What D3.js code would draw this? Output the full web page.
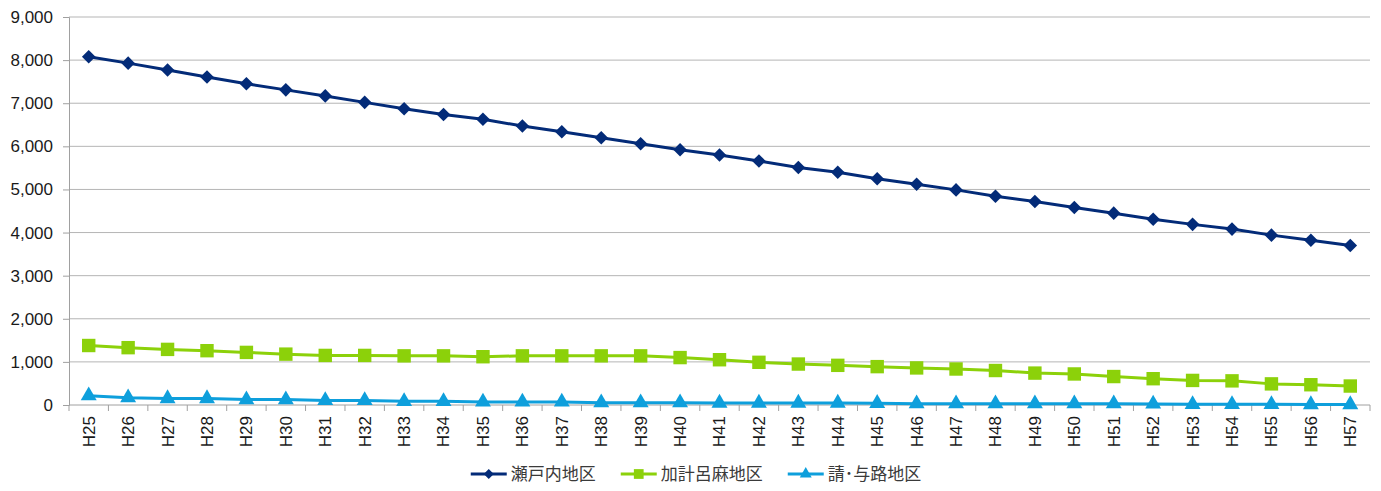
<!DOCTYPE html>
<html>
<head>
<meta charset="utf-8">
<script src="https://cdn.jsdelivr.net/npm/d3@7"></script>
<style>
  body { margin: 0; background: #fff; }
  svg { display: block; }
  .ylab, .xlab { font-family: "Liberation Sans", Arial, sans-serif; fill: #1a1a1a; }
  .leg text { font-family: "Noto Sans CJK JP", sans-serif; fill: #3a3a3a; }
</style>
</head>
<body>
<script>
//categories and series
var years = ["H25","H26","H27","H28","H29","H30","H31","H32","H33","H34","H35",
  "H36","H37","H38","H39","H40","H41","H42","H43","H44","H45","H46",
  "H47","H48","H49","H50","H51","H52","H53","H54","H55","H56","H57"];
var seriesNames = ["瀬戸内地区", "加計呂麻地区", "請･与路地区"];
var setouchi = [8080,7930,7770,7610,7450,7310,7170,7020,6870,6740,6630,
  6470,6340,6200,6060,5920,5800,5660,5510,5400,5250,5120,
  4990,4840,4720,4580,4450,4310,4190,4080,3940,3820,3700];
var kakeroma = [1380,1330,1290,1260,1220,1180,1150,1150,1140,1140,1120,
  1140,1140,1140,1140,1100,1050,990,950,920,890,860,
  835,800,740,720,660,610,570,560,490,470,440];
var ukeYoro = [215,170,150,150,125,125,105,105,85,85,70,
  70,70,55,55,55,45,45,45,45,40,30,
  30,30,30,30,30,25,15,15,15,10,10];
var yTicks = [0,1000,2000,3000,4000,5000,6000,7000,8000,9000];

(function(){
  var width = 1381, height = 491;
  var left = 69, right = 1370, top = 17, bottom = 405;

  var svg = d3.select("body").append("svg")
    .attr("width", width)
    .attr("height", height);

  var x = d3.scaleBand().domain(years).range([left, right]).padding(0);
  var y = d3.scaleLinear().domain([0, 9000]).range([bottom, top]);
  var cx = function(d, i){ return x(years[i]) + x.bandwidth() / 2; };

  //gridlines
  svg.append("g").selectAll("line")
    .data(yTicks.filter(function(t){ return t > 0; }))
    .enter().append("line")
    .attr("x1", left).attr("x2", right)
    .attr("y1", function(d){ return y(d); })
    .attr("y2", function(d){ return y(d); })
    .attr("stroke", "#b5b5b5").attr("stroke-width", 1);

  //y axis
  var yAxis = svg.append("g")
    .attr("transform", "translate(" + left + ",0)")
    .call(d3.axisLeft(y).tickValues(yTicks).tickSize(6).tickPadding(10)
      .tickFormat(d3.format(",")));
  yAxis.select(".domain").attr("stroke", "#a0a0a0");
  yAxis.selectAll(".tick line").attr("stroke", "#a0a0a0");
  yAxis.selectAll("text").attr("class", "ylab").style("font-size", "17px")
    .attr("fill", "#1a1a1a");

  //x axis line and boundary ticks
  svg.append("line")
    .attr("x1", left).attr("x2", right)
    .attr("y1", y(0)).attr("y2", y(0))
    .attr("stroke", "#a0a0a0");
  var edges = years.map(function(c){ return x(c); }).concat([right]);
  svg.append("g").selectAll("line")
    .data(edges).enter().append("line")
    .attr("x1", function(d){ return d; }).attr("x2", function(d){ return d; })
    .attr("y1", y(0)).attr("y2", y(0) + 6)
    .attr("stroke", "#a0a0a0");

  svg.append("g").selectAll("text")
    .data(years).enter().append("text")
    .attr("class", "xlab")
    .attr("transform", function(d){
      return "translate(" + (x(d) + x.bandwidth() / 2) + "," + (y(0) + 11) + ") rotate(-90)";
    })
    .attr("text-anchor", "end")
    .attr("dy", "0.35em")
    .style("font-size", "17px")
    .text(function(d){ return d; });

  //series
  var series = [
    {name: seriesNames[0], values: setouchi, color: "#032B78", symbol: d3.symbolSquare, size: 92, rot: 45, lsize: 50},
    {name: seriesNames[1], values: kakeroma, color: "#8CD10A", symbol: d3.symbolSquare, size: 180, rot: 0, lsize: 95},
    {name: seriesNames[2], values: ukeYoro, color: "#0E9FDC", symbol: d3.symbolTriangle, size: 110, rot: 0, lsize: 62}
  ];

  var line = d3.line()
    .x(cx)
    .y(function(d){ return y(d); });

  series.forEach(function(s){
    svg.append("path")
      .datum(s.values)
      .attr("d", line)
      .attr("fill", "none")
      .attr("stroke", s.color)
      .attr("stroke-width", 3)
      .attr("stroke-linejoin", "round");
    svg.append("g").selectAll("path")
      .data(s.values).enter().append("path")
      .attr("d", d3.symbol().type(s.symbol).size(s.size))
      .attr("transform", function(d, i){
        return "translate(" + cx(d, i) + "," + y(d) + ") rotate(" + s.rot + ")";
      })
      .attr("fill", s.color);
  });

  //legend
  var leg = svg.append("g").attr("class", "leg");
  var pos = 0;
  series.forEach(function(s){
    var g = leg.append("g").attr("transform", "translate(" + pos + ",0)");
    g.append("line").attr("x1", 0).attr("x2", 36).attr("y1", 0).attr("y2", 0)
      .attr("stroke", s.color).attr("stroke-width", 3);
    g.append("path")
      .attr("d", d3.symbol().type(s.symbol).size(s.lsize))
      .attr("transform", "translate(18,0) rotate(" + s.rot + ")")
      .attr("fill", s.color);
    var t = g.append("text").attr("x", 40).attr("dy", "0.35em")
      .style("font-size", "17px").text(s.name);
    pos += 40 + t.node().getComputedTextLength() + 25;
  });
  var total = pos - 25;
  leg.attr("transform", "translate(" + (696 - total / 2) + ",474)");
})();
</script>
</body>
</html>
